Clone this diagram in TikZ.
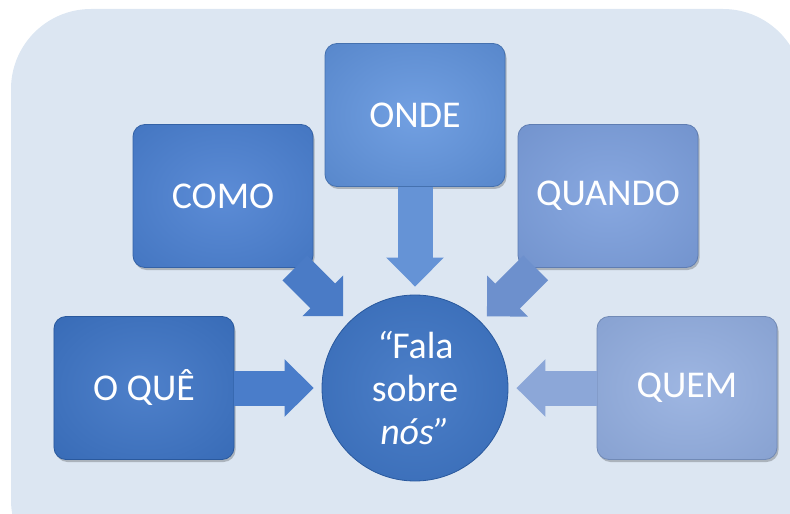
\documentclass[tikz,border=0pt]{standalone}
\usepackage{fontspec}
\setmainfont{Carlito}
\usetikzlibrary{arrows.meta,shadows}
\definecolor{bgcol}{HTML}{DCE6F2}
\definecolor{comoIn}{HTML}{5C8CD6}
\definecolor{comoOut}{HTML}{3A6DB9}
\definecolor{oqueIn}{HTML}{4E80CA}
\definecolor{oqueOut}{HTML}{2F63AF}
\definecolor{ondeIn}{HTML}{72A0E2}
\definecolor{ondeOut}{HTML}{4D7DC2}
\definecolor{quandoIn}{HTML}{88A8E0}
\definecolor{quandoOut}{HTML}{6A8BC6}
\definecolor{quemIn}{HTML}{9EB6E2}
\definecolor{quemOut}{HTML}{7E99CA}
\definecolor{circIn}{HTML}{4C7FC8}
\definecolor{circOut}{HTML}{2E62AE}
\definecolor{arComo}{HTML}{4A7BC6}
\definecolor{arOque}{HTML}{4A7DCA}
\definecolor{arOnde}{HTML}{6593D6}
\definecolor{arQuando}{HTML}{6D90CD}
\definecolor{arQuem}{HTML}{8CA7D8}
\pgfdeclareradialshading{shComo}{\pgfpoint{0bp}{0bp}}{color(0bp)=(comoIn); color(50bp)=(comoOut)}
\pgfdeclareradialshading{shOque}{\pgfpoint{0bp}{0bp}}{color(0bp)=(oqueIn); color(50bp)=(oqueOut)}
\pgfdeclareradialshading{shOnde}{\pgfpoint{0bp}{0bp}}{color(0bp)=(ondeIn); color(50bp)=(ondeOut)}
\pgfdeclareradialshading{shQuando}{\pgfpoint{0bp}{0bp}}{color(0bp)=(quandoIn); color(50bp)=(quandoOut)}
\pgfdeclareradialshading{shQuem}{\pgfpoint{0bp}{0bp}}{color(0bp)=(quemIn); color(50bp)=(quemOut)}
\pgfdeclareradialshading{shCirc}{\pgfpoint{0bp}{0bp}}{color(0bp)=(circIn); color(50bp)=(circOut)}
\tikzset{
  boxnode/.style={rectangle, rounded corners=12bp, minimum width=180bp, minimum height=143bp,
    inner sep=0pt, shade, line width=0.8bp, text=white,
    font=\fontsize{38}{43}\selectfont,
    drop shadow={shadow xshift=1.5bp, shadow yshift=-2.5bp, opacity=0.22, fill=black}},
  circnode/.style={circle, minimum size=186bp, inner sep=0pt, shade, shading=shCirc,
    draw=circOut!90!black, line width=0.8bp, text=white, align=center,
    font=\fontsize{38}{43}\selectfont},
  bigarrow/.style={line width=35bp, -{Triangle[length=29bp,width=56bp]}, shorten >=8bp}
}
\begin{document}
\begin{tikzpicture}[x=1bp,y=-1bp]
\useasboundingbox (0,0) rectangle (790,514);
\clip (0,0) rectangle (790,514);
\fill[bgcol, rounded corners=80bp] (11,9) rectangle (803,580);

\node[boxnode, shading=shComo, draw=comoOut!90!black] (como) at (223,196) {COMO};
\node[boxnode, shading=shOnde, draw=ondeOut!90!black] (onde) at (415,115) {ONDE};
\node[boxnode, shading=shQuando, draw=quandoOut!90!black] (quando) at (608,196) {QUANDO};
\node[boxnode, shading=shOque, draw=oqueOut!90!black] (oque) at (144,388) {O QUÊ};
\node[boxnode, shading=shQuem, draw=quemOut!90!black] (quem) at (687,388) {QUEM};
\node[circnode] (circ) at (415,388) {{\itshape “}Fala\\sobre\\\textit{nós”}};

\draw[bigarrow, draw=arComo] (como) -- (circ);
\draw[bigarrow, draw=arOnde] (onde) -- (circ);
\draw[bigarrow, draw=arQuando] (quando) -- (circ);
\draw[bigarrow, draw=arOque] (oque) -- (circ);
\draw[bigarrow, draw=arQuem] (quem) -- (circ);
\end{tikzpicture}
\end{document}
